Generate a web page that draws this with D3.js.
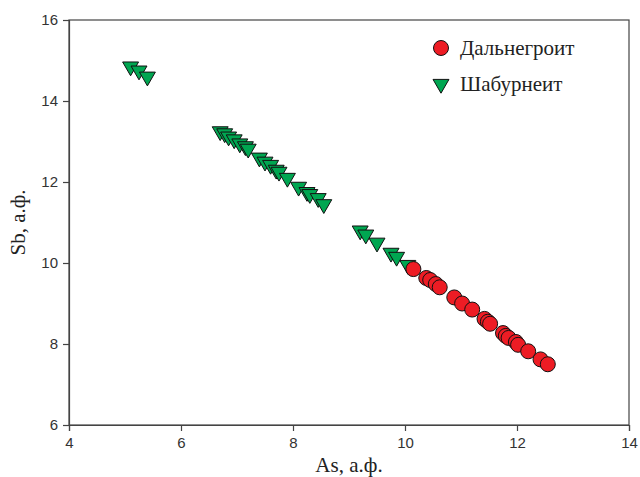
<!DOCTYPE html>
<html>
<head>
<meta charset="utf-8">
<script src="https://cdn.jsdelivr.net/npm/d3@7"></script>
<style>
  body { margin: 0; background: #fff; }
  svg { display: block; }
</style>
</head>
<body>
<svg id="chart" width="640" height="477"></svg>
<script>
// Шабурнеит (triangles)
const shabAs = [5.1, 5.25, 5.4,
    6.7, 6.78, 6.85, 6.95, 7.05, 7.15, 7.2, 7.4, 7.5, 7.6, 7.7, 7.75, 7.9, 8.1, 8.25, 8.3, 8.45, 8.55,
    9.2, 9.3, 9.5, 9.75, 9.85, 10.05];
const shabSb = [14.85, 14.75, 14.6,
    13.25, 13.2, 13.12, 13.05, 12.95, 12.88, 12.82, 12.6, 12.5, 12.42, 12.3, 12.25, 12.1, 11.88, 11.75, 11.7, 11.6, 11.45,
    10.8, 10.7, 10.5, 10.25, 10.15, 9.95];

// Дальнегроит (circles)
const dalAs = [10.15, 10.38, 10.45, 10.55, 10.62, 10.88, 11.02, 11.2, 11.42, 11.48, 11.52, 11.75, 11.8, 11.85, 11.98, 12.02, 12.2, 12.42, 12.55];
const dalSb = [9.85, 9.63, 9.58, 9.48, 9.4, 9.15, 9.0, 8.85, 8.62, 8.55, 8.5, 8.27, 8.2, 8.15, 8.05, 7.98, 7.82, 7.62, 7.5];

const xTicks = [4, 6, 8, 10, 12, 14];
const yTicks = [6, 8, 10, 12, 14, 16];
const legendNames = ["Дальнегроит", "Шабурнеит"];

const RED = "#ed1c24", GREEN = "#00a651", AXIS = "#444";

const svg = d3.select("#chart");
const mLeft = 69, mRight = 629, mTop = 20, mBottom = 425;

const x = d3.scaleLinear().domain([4, 14]).range([mLeft, mRight]);
const y = d3.scaleLinear().domain([6, 16]).range([mBottom, mTop]);

// frame
svg.append("rect")
    .attr("x", mLeft).attr("y", mTop)
    .attr("width", mRight - mLeft).attr("height", mBottom - mTop)
    .attr("fill", "none").attr("stroke", AXIS).attr("stroke-width", 1.2);

const xAxis = svg.append("g")
    .attr("transform", `translate(0,${mBottom})`)
    .call(d3.axisBottom(x).tickValues(xTicks).tickSize(6).tickPadding(6));
const yAxis = svg.append("g")
    .attr("transform", `translate(${mLeft},0)`)
    .call(d3.axisLeft(y).tickValues(yTicks).tickSize(6).tickPadding(5));

[xAxis, yAxis].forEach(g => {
    g.select(".domain").attr("stroke", AXIS).attr("stroke-width", 1.2);
    g.selectAll(".tick line").attr("stroke", AXIS).attr("stroke-width", 1.2);
    g.selectAll(".tick text")
        .attr("fill", "#333")
        .style("font-family", "'Liberation Sans', Arial, sans-serif")
        .style("font-size", "15px");
});

// axis titles
svg.append("text")
    .attr("x", (mLeft + mRight) / 2).attr("y", 472)
    .attr("text-anchor", "middle")
    .style("font-family", "'Liberation Serif', 'Times New Roman', serif")
    .style("font-size", "21px")
    .attr("fill", "#222")
    .text("As, а.ф.");

svg.append("text")
    .attr("transform", `translate(25,${(mTop + mBottom) / 2}) rotate(-90)`)
    .attr("text-anchor", "middle")
    .style("font-family", "'Liberation Serif', 'Times New Roman', serif")
    .style("font-size", "21px")
    .attr("fill", "#222")
    .text("Sb, а.ф.");

const tri = d3.symbol().type(d3.symbolTriangle).size(110);

// triangles
svg.append("g")
    .selectAll("path")
    .data(d3.zip(shabAs, shabSb))
    .join("path")
    .attr("d", tri)
    .attr("transform", d => `translate(${x(d[0])},${y(d[1])}) rotate(180)`)
    .attr("fill", GREEN)
    .attr("stroke", "#111")
    .attr("stroke-width", 1);

// circles
svg.append("g")
    .selectAll("circle")
    .data(d3.zip(dalAs, dalSb))
    .join("circle")
    .attr("cx", d => x(d[0]))
    .attr("cy", d => y(d[1]))
    .attr("r", 7.5)
    .attr("fill", RED)
    .attr("stroke", "#111")
    .attr("stroke-width", 1);

// legend
const legend = svg.append("g").attr("transform", "translate(441,48)");
legend.append("circle").attr("r", 7.5).attr("fill", RED).attr("stroke", "#111");
legend.append("path").attr("d", tri)
    .attr("transform", "translate(0,36) rotate(180)")
    .attr("fill", GREEN).attr("stroke", "#111");
legend.selectAll("text")
    .data(legendNames)
    .join("text")
    .attr("x", 19)
    .attr("y", (d, i) => i * 36 + 7)
    .style("font-family", "'Liberation Serif', 'Times New Roman', serif")
    .style("font-size", "21px")
    .attr("fill", "#222")
    .text(d => d);
</script>
</body>
</html>
